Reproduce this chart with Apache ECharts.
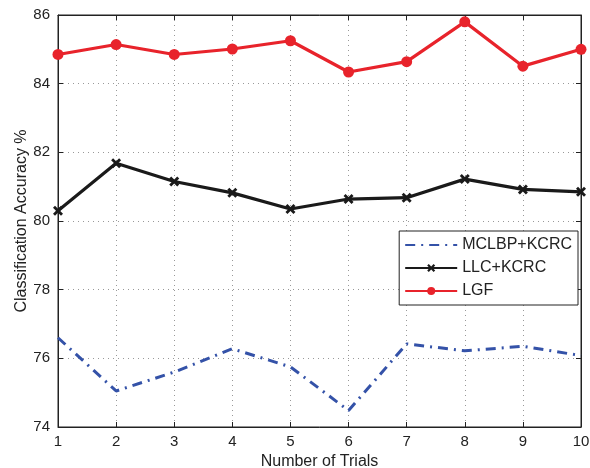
<!DOCTYPE html>
<html>
<head>
<meta charset="utf-8">
<script src="https://cdn.jsdelivr.net/npm/echarts@6/dist/echarts.min.js"></script>
<title>Classification accuracy</title>
</head>
<body style="margin:0">
<div id="chart" style="width:590px;height:468px"></div>
<script>
var trials = [1, 2, 3, 4, 5, 6, 7, 8, 9, 10];
var mclbp = [76.6, 75.05, 75.6, 76.28, 75.75, 74.48, 76.42, 76.22, 76.35, 76.08];
var llc = [80.3, 81.68, 81.15, 80.82, 80.35, 80.64, 80.68, 81.22, 80.92, 80.85];
var lgf = [84.85, 85.14, 84.85, 85.01, 85.25, 84.34, 84.64, 85.8, 84.51, 85.0];

function pairs(vals) {
   return trials.map(function (t, i) { return [t, vals[i]]; });
}

var font = 'Liberation Sans, Arial, sans-serif';
var cross = 'path://M0,2 L2,0 L5,3 L8,0 L10,2 L7,5 L10,8 L8,10 L5,7 L2,10 L0,8 L3,5 Z';
var gridLine = {show: true, lineStyle: {color: '#999', type: [1, 4], width: 1}};

var chart = echarts.init(document.getElementById('chart'));
chart.setOption({
   animation: false,
   textStyle: {fontFamily: font},
   grid: {left: 58, right: 9, top: 15, bottom: 41, outerBoundsMode: 'none', containLabel: false,
          show: true, borderColor: '#222', borderWidth: 1},
   xAxis: [{
      type: 'value', min: 1, max: 10, interval: 1,
      name: 'Number of Trials', nameLocation: 'middle', nameGap: 25,
      nameTextStyle: {fontSize: 16, color: '#222', fontFamily: font},
      axisLine: {lineStyle: {color: '#222'}},
      axisTick: {inside: true, length: 5, lineStyle: {color: '#222'}},
      axisLabel: {fontSize: 15, color: '#222', fontFamily: font, margin: 7},
      splitLine: gridLine
   }, {
      type: 'value', position: 'top', min: 1, max: 10, interval: 1,
      axisLine: {lineStyle: {color: '#222'}},
      axisTick: {inside: true, length: 5, lineStyle: {color: '#222'}},
      axisLabel: {show: false}, splitLine: {show: false}
   }],
   yAxis: [{
      type: 'value', min: 74, max: 86, interval: 2,
      name: 'Classification Accuracy %', nameLocation: 'middle', nameGap: 28,
      nameMoveOverlap: false,
      nameTextStyle: {fontSize: 16, color: '#222', fontFamily: font},
      axisLine: {show: true, lineStyle: {color: '#222'}},
      axisTick: {show: true, inside: true, length: 5, lineStyle: {color: '#222'}},
      axisLabel: {fontSize: 15, color: '#222', fontFamily: font, margin: 8},
      splitLine: gridLine
   }, {
      type: 'value', position: 'right', min: 74, max: 86, interval: 2,
      axisLine: {show: true, lineStyle: {color: '#222'}},
      axisTick: {show: true, inside: true, length: 5, lineStyle: {color: '#222'}},
      axisLabel: {show: false}, splitLine: {show: false}
   }],
   legend: {
      right: 12, top: 231, orient: 'vertical',
      backgroundColor: '#fff', borderColor: '#222', borderWidth: 1,
      padding: [6, 6, 6, 5], itemGap: 7,
      itemWidth: 52, itemHeight: 10,
      textStyle: {fontSize: 16, color: '#222', fontFamily: font},
      data: [
         {name: 'MCLBP+KCRC', itemStyle: {opacity: 0}},
         'LLC+KCRC',
         'LGF'
      ]
   },
   series: [{
      name: 'MCLBP+KCRC', type: 'line', data: pairs(mclbp),
      showSymbol: false, symbol: 'none',
      lineStyle: {color: '#3452a8', width: 3, type: [10, 6, 2, 6]},
      itemStyle: {color: '#3452a8'}
   }, {
      name: 'LLC+KCRC', type: 'line', data: pairs(llc),
      symbol: cross, symbolSize: 10,
      lineStyle: {color: '#1a1a1a', width: 3.2},
      itemStyle: {color: '#1a1a1a'}
   }, {
      name: 'LGF', type: 'line', data: pairs(lgf),
      symbol: 'circle', symbolSize: 11,
      lineStyle: {color: '#e8232b', width: 3.2},
      itemStyle: {color: '#e8232b'}
   }]
});
</script>
</body>
</html>
